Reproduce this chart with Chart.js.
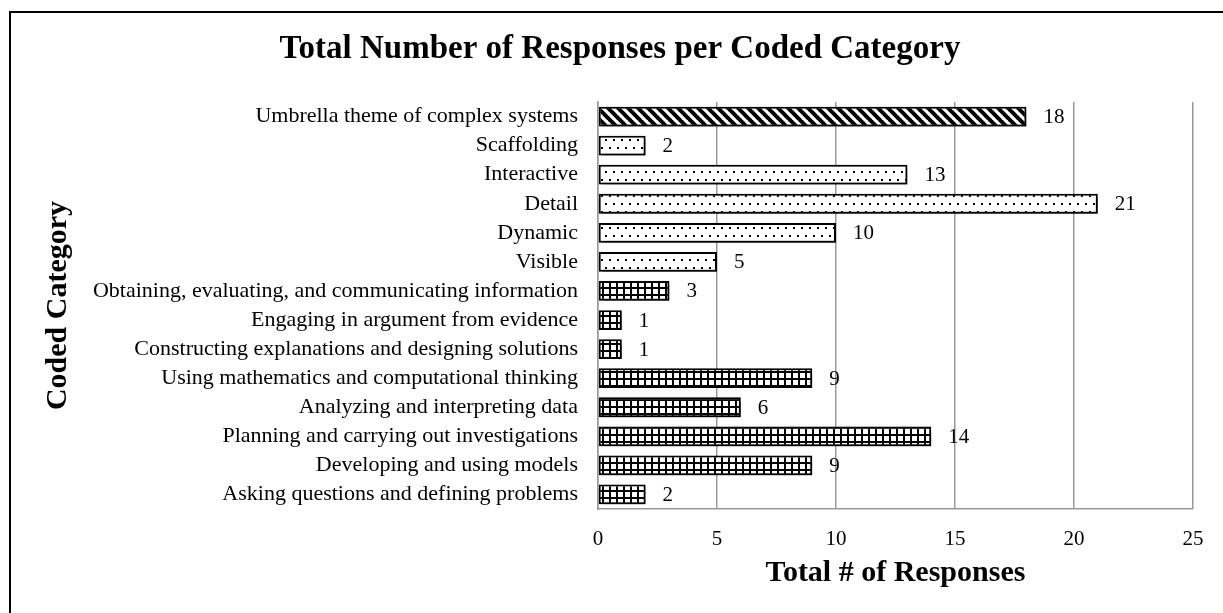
<!DOCTYPE html>
<html>
<head>
<meta charset="utf-8">
<script src="https://cdn.jsdelivr.net/npm/chart.js@4.4.1/dist/chart.umd.min.js"></script>
<style>
  html, body { margin: 0; padding: 0; background: #fff; }
  #wrap { width: 1223px; height: 613px; }
</style>
</head>
<body>
<div id="wrap"><canvas id="myChart" width="1223" height="613"></canvas></div>
<script>
// Categories, top to bottom as in the picture
const categories = [
  'Umbrella theme of complex systems',
  'Scaffolding',
  'Interactive',
  'Detail',
  'Dynamic',
  'Visible',
  'Obtaining, evaluating, and communicating information',
  'Engaging in argument from evidence',
  'Constructing explanations and designing solutions',
  'Using mathematics and computational thinking',
  'Analyzing and interpreting data',
  'Planning and carrying out investigations',
  'Developing and using models',
  'Asking questions and defining problems'
];

// Total # of responses per category
const responses = [18, 2, 13, 21, 10, 5, 3, 1, 1, 9, 6, 14, 9, 2];

// X axis ticks
const xTicks = [0, 5, 10, 15, 20, 25];

// Fill style for each bar (stripes / dots / grid)
const fillKinds = ['stripe', 'dots', 'dots', 'dots', 'dots', 'dots',
  'grid', 'grid', 'grid', 'grid', 'grid', 'grid', 'grid', 'grid'];

const chartTitle = 'Total Number of Responses per Coded Category';
const serif = "'Liberation Serif', 'DejaVu Serif', serif";

// Build a canvas pattern for the bar fills
function makePattern(kind) {
  const c = document.createElement('canvas');
  const g = c.getContext('2d');
  if (kind === 'stripe') {
    c.width = 10; c.height = 10;
    g.fillStyle = '#fff';
    g.fillRect(0, 0, 10, 10);
    g.strokeStyle = '#000';
    g.lineWidth = 4;
    g.beginPath();
    for (let o = -10; o <= 10; o += 10) {
      g.moveTo(o - 1, -1);
      g.lineTo(o + 11, 11);
    }
    g.stroke();
  } else if (kind === 'dots') {
    c.width = 8; c.height = 16;
    g.fillStyle = '#fff';
    g.fillRect(0, 0, 8, 16);
    g.fillStyle = '#000';
    g.fillRect(1, 3, 2, 2);
    g.fillRect(5, 11, 2, 2);
  } else {
    c.width = 7; c.height = 7;
    g.fillStyle = '#fff';
    g.fillRect(0, 0, 7, 7);
    g.fillStyle = '#000';
    g.fillRect(0, 0, 7, 2);
    g.fillRect(0, 0, 2, 7);
  }
  return g.createPattern(c, 'repeat');
}

const fills = fillKinds.map(makePattern);

// Outer frame (only left and top edges are inside the picture) + title
const framePlugin = {
  id: 'framePlugin',
  beforeDraw(chart) {
    const ctx = chart.ctx;
    ctx.save();
    ctx.fillStyle = '#fff';
    ctx.fillRect(0, 0, chart.width, chart.height);
    ctx.strokeStyle = '#000';
    ctx.lineWidth = 2;
    ctx.strokeRect(10, 12, chart.width + 20, chart.height + 20);
    ctx.restore();
  },
  afterDraw(chart) {
    const ctx = chart.ctx;
    ctx.save();
    ctx.fillStyle = '#000';
    ctx.font = 'bold 33px ' + serif;
    ctx.textAlign = 'center';
    ctx.textBaseline = 'middle';
    ctx.fillText(chartTitle, 620, 49);
    ctx.restore();
  }
};

// Soft drop shadow under the bars
const shadowPlugin = {
  id: 'shadowPlugin',
  beforeDatasetsDraw(chart) {
    const ctx = chart.ctx;
    ctx.save();
    ctx.shadowColor = 'rgba(0,0,0,0.6)';
    ctx.shadowBlur = 5;
    ctx.shadowOffsetX = 3;
    ctx.shadowOffsetY = 3;
  },
  afterDatasetsDraw(chart) {
    chart.ctx.restore();
  }
};

// Value labels to the right of each bar
const valueLabels = {
  id: 'valueLabels',
  afterDatasetsDraw(chart) {
    const ctx = chart.ctx;
    const meta = chart.getDatasetMeta(0);
    ctx.save();
    ctx.fillStyle = '#000';
    ctx.font = '21px ' + serif;
    ctx.textAlign = 'left';
    ctx.textBaseline = 'middle';
    meta.data.forEach((bar, i) => {
      ctx.fillText(String(responses[i]), bar.x + 17, bar.y + 1);
    });
    ctx.restore();
  }
};

const ctx = document.getElementById('myChart').getContext('2d');
new Chart(ctx, {
  type: 'bar',
  data: {
    labels: categories,
    datasets: [{
      data: responses,
      backgroundColor: fills,
      borderColor: '#000',
      borderWidth: 2,
      borderSkipped: false,
      barPercentage: 0.68,
      categoryPercentage: 1
    }]
  },
  options: {
    indexAxis: 'y',
    responsive: false,
    animation: false,
    events: [],
    layout: { padding: { left: 0, right: 30, top: 102, bottom: 0 } },
    plugins: {
      legend: { display: false },
      tooltip: { enabled: false },
      title: { display: false }
    },
    scales: {
      x: {
        min: 0,
        max: 25,
        afterBuildTicks(scale) {
          scale.ticks = xTicks.map(v => ({ value: v }));
        },
        afterFit(scale) { scale.height = 104; },
        grid: { color: '#999', lineWidth: 1.5, drawTicks: false },
        border: { color: '#999', width: 1.5 },
        ticks: { color: '#000', padding: 18, font: { family: serif, size: 21 } },
        title: {
          display: true,
          text: 'Total # of Responses',
          color: '#000',
          font: { family: serif, size: 30, weight: 'bold' },
          padding: { top: 0, bottom: 22 }
        }
      },
      y: {
        afterFit(scale) { scale.width = 598; },
        grid: { display: false, drawTicks: false },
        border: { color: '#999', width: 1.5 },
        ticks: { color: '#000', padding: 20, autoSkip: false, font: { family: serif, size: 22 } },
        title: {
          display: true,
          text: 'Coded Category',
          color: '#000',
          font: { family: serif, size: 30, weight: 'bold' },
          padding: { top: 40, bottom: 0 }
        }
      }
    }
  },
  plugins: [framePlugin, shadowPlugin, valueLabels]
});
</script>
</body>
</html>
